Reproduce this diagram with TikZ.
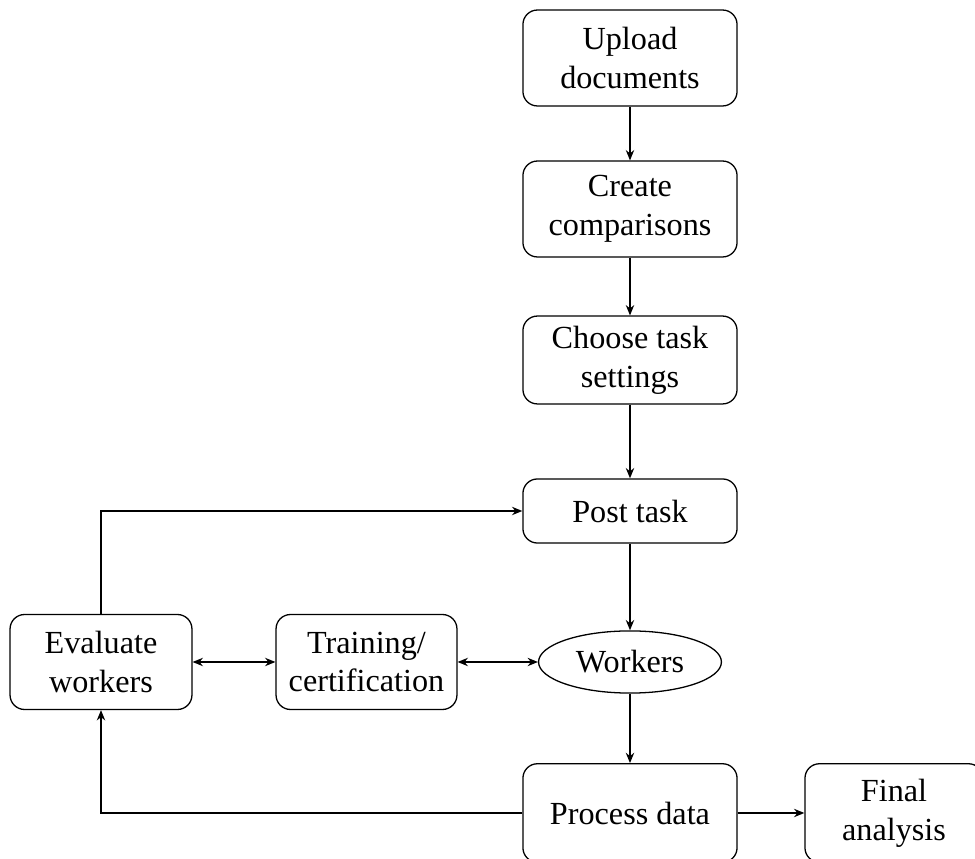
\documentclass[tikz,border=0pt]{standalone}
\usepackage{fontspec}
\setmainfont{Liberation Serif}
\usetikzlibrary{arrows.meta,shapes.geometric}
\tikzset{
  flowbox/.style={draw, rounded corners=4.5pt, align=center, inner sep=1pt, line width=0.4pt},
  oval/.style={draw, ellipse, align=center, inner sep=0pt, line width=0.4pt},
  conn/.style={-{Stealth[length=3.2pt,width=2.6pt]}, line width=0.4pt},
  biconn/.style={{Stealth[length=3.2pt,width=2.6pt]}-{Stealth[length=3.2pt,width=2.6pt]}, line width=0.4pt}
}
\begin{document}
\begin{tikzpicture}[x=0.3106pt,y=-0.3106pt]
\useasboundingbox (0,0) rectangle (975,859);
\clip (0,0) rectangle (975,859);
\node[flowbox, minimum width=66.5pt, minimum height=29.8pt] (up) at (630,58) {Upload\\documents};
\node[flowbox, minimum width=66.5pt, minimum height=29.8pt] (cc) at (630,209) {Create\\comparisons};
\node[flowbox, minimum width=66.5pt, minimum height=27.3pt] (ch) at (630,360) {Choose task\\settings};
\node[flowbox, minimum width=66.5pt, minimum height=19.9pt] (post) at (630,511) {Post task};
\node[oval, minimum width=56.8pt, minimum height=19.3pt] (wk) at (630,662) {Workers};
\node[flowbox, minimum width=56.5pt, minimum height=29.5pt] (ev) at (101,662) {Evaluate\\workers};
\node[flowbox, minimum width=56.2pt, minimum height=29.5pt] (tr) at (366.5,662) {Training/\\certification};
\node[flowbox, minimum width=66.5pt, minimum height=30.6pt] (pd) at (630,813) {Process data};
\node[flowbox, minimum width=55.3pt, minimum height=30.6pt] (fa) at (894,813) {Final\\analysis};
\draw[conn] (up) -- (cc);
\draw[conn] (cc) -- (ch);
\draw[conn] (ch) -- (post);
\draw[conn] (post) -- (wk);
\draw[conn] (wk) -- (pd);
\draw[conn] (pd) -- (fa);
\draw[biconn] (ev) -- (tr);
\draw[biconn] (tr) -- (wk);
\draw[conn] (ev.north) |- (post.west);
\draw[conn] (pd.west) -| (ev.south);
\end{tikzpicture}
\end{document}
